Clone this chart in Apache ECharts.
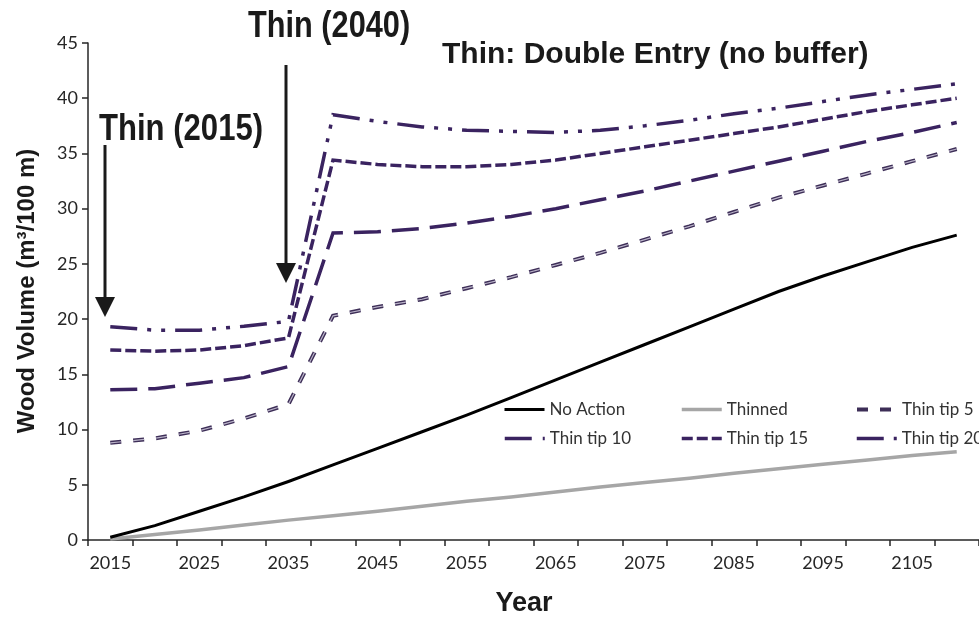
<!DOCTYPE html>
<html>
<head>
<meta charset="utf-8">
<script src="https://cdn.jsdelivr.net/npm/echarts@6/dist/echarts.min.js"></script>
<style>
  html, body { margin: 0; padding: 0; background: #ffffff; }
  #chart { width: 979px; height: 618px; }
</style>
</head>
<body>
<div id="chart"></div>
<script>
// Years on the category axis (5-year steps)
const years = ['2015', '2020', '2025', '2030', '2035', '2040', '2045', '2050', '2055', '2060',
               '2065', '2070', '2075', '2080', '2085', '2090', '2095', '2100', '2105', '2110'];

// Wood volume (m³/100 m) for each scenario
const noAction  = [0.25, 1.3, 2.6, 3.9, 5.3, 6.8, 8.3, 9.8, 11.3, 12.9,
                   14.5, 16.1, 17.7, 19.3, 20.9, 22.5, 23.9, 25.2, 26.5, 27.6];
const thinned   = [0.1, 0.5, 0.9, 1.35, 1.8, 2.2, 2.6, 3.05, 3.5, 3.9,
                   4.35, 4.8, 5.2, 5.6, 6.05, 6.45, 6.85, 7.25, 7.65, 8.0];
const thinTip5  = [8.8, 9.2, 9.9, 11.0, 12.3, 20.3, 21.1, 21.8, 22.8, 23.8,
                   24.9, 26.0, 27.2, 28.4, 29.7, 31.0, 32.1, 33.2, 34.3, 35.4];
const thinTip10 = [13.6, 13.7, 14.2, 14.7, 15.7, 27.8, 27.9, 28.2, 28.7, 29.3,
                   30.0, 30.8, 31.6, 32.5, 33.4, 34.3, 35.2, 36.1, 36.9, 37.8];
const thinTip15 = [17.2, 17.1, 17.2, 17.6, 18.3, 34.4, 34.0, 33.8, 33.8, 34.0,
                   34.4, 35.0, 35.6, 36.2, 36.8, 37.4, 38.1, 38.8, 39.4, 40.0];
const thinTip20 = [19.3, 19.0, 19.0, 19.35, 19.8, 38.5, 37.9, 37.4, 37.1, 37.0,
                   36.9, 37.1, 37.5, 38.0, 38.6, 39.1, 39.7, 40.3, 40.8, 41.3];

// Value axis range
const yMin = 0, yMax = 45, yStep = 5;

const axisColor = '#262626';
const purple = '#3a2360';
const ink = '#1a1a1a';

function lineSeries(name, data, color, width, dash, z) {
  return {
    name: name,
    type: 'line',
    data: data,
    symbol: 'none',
    smooth: false,
    z: z,
    silent: true,
    animation: false,
    lineStyle: { color: color, width: width, type: dash, cap: 'butt', join: 'miter' },
    itemStyle: { color: color },
    emphasis: { disabled: true }
  };
}

const legendText = { fontFamily: 'Lato', fontSize: 17, color: '#333333' };
function legendAt(name, left, top, width) {
  return {
    data: [name],
    left: left,
    top: top,
    padding: 0,
    itemGap: 0,
    itemWidth: 40,
    itemHeight: 14,
    selectedMode: false,
    itemStyle: { opacity: 0 },
    lineStyle: { width: width },
    textStyle: legendText
  };
}

function label(text, x, y, font, scaleX, align) {
  return {
    type: 'text', x: x, y: y, scaleX: scaleX, z: 10,
    style: { text: text, font: font, fill: ink,
             align: align, verticalAlign: 'middle', textAlign: align, textVerticalAlign: 'middle' }
  };
}

const chart = echarts.init(document.getElementById('chart'), null, { renderer: 'canvas' });

chart.setOption({
  backgroundColor: '#ffffff',
  animation: false,
  grid: { left: 88, top: 43, width: 895, height: 497, containLabel: false },
  xAxis: {
    type: 'category',
    data: years,
    boundaryGap: true,
    axisLine: { show: true, lineStyle: { color: axisColor, width: 1.5 } },
    axisTick: { show: true, interval: 0, length: 6, lineStyle: { color: axisColor, width: 1.5 } },
    axisLabel: { interval: 1, fontFamily: 'Lato', fontSize: 18, color: axisColor, margin: 14 },
    splitLine: { show: false }
  },
  yAxis: {
    type: 'value',
    min: yMin,
    max: yMax,
    interval: yStep,
    axisLine: { show: true, lineStyle: { color: axisColor, width: 1.5 } },
    axisTick: { show: true, length: 6, lineStyle: { color: axisColor, width: 1.5 } },
    axisLabel: { fontFamily: 'Lato', fontSize: 18, color: axisColor, margin: 10 },
    splitLine: { show: false }
  },
  legend: [
    legendAt('No Action', 503, 401, 3),
    legendAt('Thinned', 680, 401, 3.5),
    legendAt('Thin tip 5', 855, 401, 4),
    legendAt('Thin tip 10', 503, 430, 3.5),
    legendAt('Thin tip 15', 680, 430, 3.5),
    legendAt('Thin tip 20', 855, 430, 3.5)
  ],
  series: [
    lineSeries('Thinned', thinned, '#a6a6a6', 3.5, 'solid', 2),
    lineSeries('No Action', noAction, '#000000', 3, 'solid', 3),
    lineSeries('Thin tip 5', thinTip5, '#3d2e57', 4, [11, 12], 4),
    // light core inside the Thin tip 5 dashes
    lineSeries('Thin tip 5 core', thinTip5, '#b9b2c8', 1.2, [11, 12], 5),
    lineSeries('Thin tip 10', thinTip10, purple, 3.5, [27, 11], 4),
    lineSeries('Thin tip 15', thinTip15, purple, 3.5, [11, 4], 4),
    lineSeries('Thin tip 20', thinTip20, purple, 3.5, [27, 10, 4, 10, 4, 10], 4)
  ],
  graphic: [
    label('Thin: Double Entry (no buffer)', 442, 55, 'bold 30px "Liberation Sans"', 1, 'left'),
    label('Thin (2040)', 248, 27, 'bold 37px "Liberation Sans"', 0.83, 'left'),
    label('Thin (2015)', 99, 130, 'bold 37px "Liberation Sans"', 0.84, 'left'),
    // arrow marking the 2015 thinning
    { type: 'line', z: 10, shape: { x1: 105, y1: 145, x2: 105, y2: 300 }, style: { stroke: ink, lineWidth: 3 } },
    { type: 'polygon', z: 10, shape: { points: [[95, 297], [115, 297], [105, 317]] }, style: { fill: ink } },
    // arrow marking the 2040 thinning
    { type: 'line', z: 10, shape: { x1: 286, y1: 65, x2: 286, y2: 266 }, style: { stroke: ink, lineWidth: 3 } },
    { type: 'polygon', z: 10, shape: { points: [[276, 263], [296, 263], [286, 283]] }, style: { fill: ink } },
    // axis titles
    Object.assign(label('Wood Volume (m³/100 m)', 27, 291, 'bold 24px "Liberation Sans"', 1, 'center'),
                  { rotation: Math.PI / 2 }),
    label('Year', 524, 604, 'bold 27px "Liberation Sans"', 1, 'center')
  ]
});
</script>
</body>
</html>
